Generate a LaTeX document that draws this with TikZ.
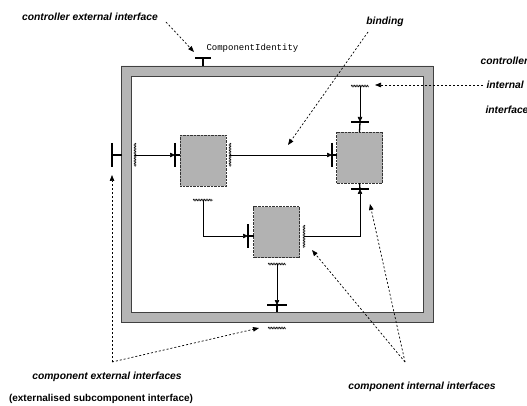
\documentclass[tikz,border=0pt]{standalone}
\usepackage{fontspec}
\setmainfont{Liberation Sans}
\newfontfamily\codefont{Liberation Mono}
\usetikzlibrary{arrows.meta,decorations.pathmorphing}
\tikzset{
  comp/.style={draw=black!80, densely dotted, fill=gray!60, minimum width=46pt, minimum height=51pt, inner sep=0pt},
  itf/.style={line width=1.3pt},
  bind/.style={semithick, -{Triangle[length=5pt,width=4.5pt]}},
  stub/.style={thin, decorate, decoration={zigzag, segment length=1.6pt, amplitude=0.9pt}},
  note/.style={line width=0.7pt, dash pattern=on 2pt off 2pt, -{Triangle[length=6pt,width=4.5pt]}},
  lbl/.style={font=\fontsize{10.3}{12}\selectfont\bfseries\itshape},
}
\begin{document}
\begin{tikzpicture}[x=1pt,y=-1pt]
\useasboundingbox (0,0) rectangle (527,406);
% membrane of the composite
\fill[gray!58, even odd rule] (121,66) rectangle (433,322) (131,76) rectangle (423,312);
\draw[black!75] (121,66) rectangle (433,322);
\draw[black!75] (131,76) rectangle (423,312);
% subcomponents
\node[comp] (lbox) at (203,161) {};
\node[comp] (rbox) at (359.5,157.5) {};
\node[comp] (cbox) at (276.5,232) {};
% controller interfaces
\coordinate (ctop) at (203,58);
\draw[itf] (203,66) -- (ctop); \draw[itf] (195,58) -- (211,58);
\coordinate (cint) at (360,86);
\draw[stub] (351,86) -- (369,86);
\coordinate (rtop) at (360,122);
\draw[itf] (rtop) -- (rbox.north); \draw[itf] (351,122) -- (369,122);
\draw[bind] (cint) -- (rtop);
% left side: external -> left box
\coordinate (extl) at (112,155);
\draw[itf] (122,155) -- (extl); \draw[itf] (112,143) -- (112,167);
\coordinate (inl) at (135,155);
\draw[stub] (135,143) -- (135,167);
\coordinate (lin) at (175,155);
\draw[itf] (lin) -- (180,155); \draw[itf] (175,143) -- (175,167);
\draw[bind] (inl) -- (lin);
% binding left box -> right box
\coordinate (lout) at (230,155);
\draw[stub] (230,143) -- (230,167);
\coordinate (rin) at (332,155);
\draw[itf] (rin) -- (337,155); \draw[itf] (332,143) -- (332,167);
\draw[bind] (lout) -- (rin);
% left box -> lower box
\coordinate (lbot) at (203,200);
\draw[stub] (193,200) -- (213,200);
\coordinate (cin) at (248,236);
\draw[itf] (cin) -- (254,236); \draw[itf] (248,224) -- (248,248);
\draw[bind] (lbot) |- (cin);
% lower box -> right box
\coordinate (cout) at (304,236);
\draw[stub] (304,225) -- (304,248);
\coordinate (rbot) at (360,189);
\draw[itf] (rbox.south) -- (rbot); \draw[itf] (351,189) -- (369,189);
\draw[bind] (cout) -| (rbot);
% lower box -> bottom of membrane
\coordinate (cbot) at (277,264);
\draw[stub] (268,264) -- (286,264);
\coordinate (fbot) at (277,305);
\draw[itf] (fbot) -- (277,312); \draw[itf] (267,305) -- (287,305);
\draw[bind] (cbot) -- (fbot);
\coordinate (fext) at (277,328);
\draw[stub] (268,328) -- (286,328);
% annotations
\node[lbl] (tcei) at (90,17) {controller external interface};
\draw[note] (166,22) -- (194,52);
\node[font=\codefont\fontsize{9}{10}\selectfont, anchor=west] (cid) at (203,48) {ComponentIdentity};
\node[lbl] (tbind) at (385,22) {binding};
\draw[note] (368,32) -- (288,145);
\node[lbl, anchor=west] (tctl) at (477,61) {controller};
\node[lbl, anchor=west] (tint) at (483,85) {internal};
\node[lbl, anchor=west] (titf) at (482,110) {interface};
\draw[note] (tint.west) -- (375,85);
\coordinate (knee) at (112,362);
\draw[note] (knee) -- (112,175);
\draw[note] (knee) -- (259,328);
\coordinate (fork) at (405,362);
\draw[note] (fork) -- (312,250);
\draw[note] (fork) -- (370,204);
\node[lbl] (tcext) at (107,377) {component external interfaces};
\node[font=\fontsize{10}{12}\selectfont\bfseries] (tsub) at (101,399) {(externalised subcomponent interface)};
\node[lbl] (tcint) at (422,387) {component internal interfaces};
\end{tikzpicture}
\end{document}
